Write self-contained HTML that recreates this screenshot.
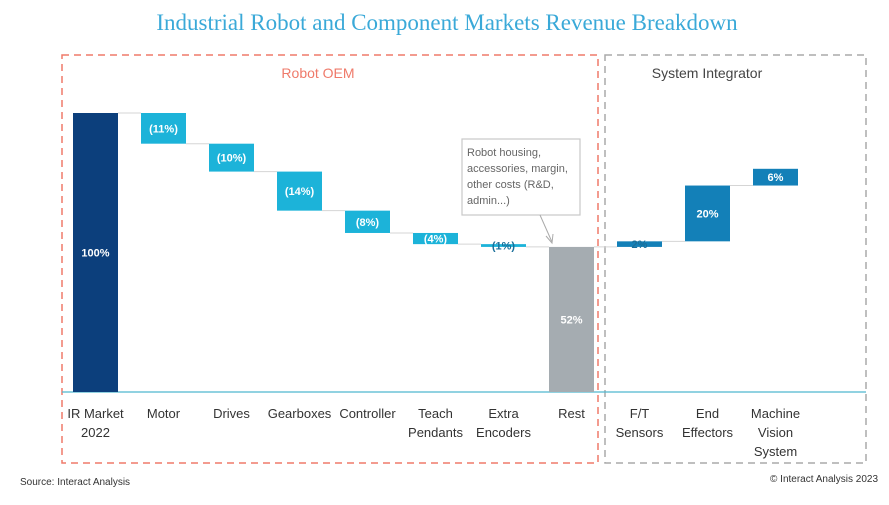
<!DOCTYPE html>
<html><head><meta charset="utf-8"><style>
body{margin:0;background:#fff;width:889px;height:500px;overflow:hidden;font-family:"Liberation Sans",sans-serif}
</style></head><body>
<svg id="chart" width="889" height="500" xmlns="http://www.w3.org/2000/svg">
<text x="447" y="30" text-anchor="middle" font-family="Liberation Serif,serif" font-size="23" fill="#3aa9d8">Industrial Robot and Component Markets Revenue Breakdown</text>
<rect x="62" y="55" width="536" height="408" fill="none" stroke="#ef7a6a" stroke-width="1.5" stroke-dasharray="7,5"/>
<rect x="605" y="55" width="261" height="408" fill="none" stroke="#aaaaaa" stroke-width="1.5" stroke-dasharray="7,5"/>
<text x="318" y="78" text-anchor="middle" font-size="14" fill="#ef7a6a">Robot OEM</text>
<text x="707" y="78" text-anchor="middle" font-size="14" fill="#444">System Integrator</text>
<line x1="62" y1="392" x2="866" y2="392" stroke="#4fb8cf" stroke-width="1.2"/>
<g id="marks"></g>
<g>
<rect x="462" y="139" width="118" height="76" fill="#fff" stroke="#c8c8c8" stroke-width="1.2"/>
<text font-size="11" fill="#666"><tspan x="467" y="156">Robot housing,</tspan><tspan x="467" y="172">accessories, margin,</tspan><tspan x="467" y="188">other costs (R&amp;D,</tspan><tspan x="467" y="204">admin...)</tspan></text>
<line x1="540" y1="215" x2="552" y2="242" stroke="#aaa" stroke-width="1"/>
<polyline points="546,236 552,243 553,234" fill="none" stroke="#aaa" stroke-width="1"/>
</g>
<text x="20" y="485" font-size="10" fill="#333">Source: Interact Analysis</text>
<text x="878" y="482" text-anchor="end" font-size="10" fill="#333">© Interact Analysis 2023</text>
</svg>
<script>
const categories=[["IR Market","2022"],["Motor"],["Drives"],["Gearboxes"],["Controller"],["Teach","Pendants"],["Extra","Encoders"],["Rest"],["F/T","Sensors"],["End","Effectors"],["Machine","Vision","System"]];
const values=[100,-11,-10,-14,-8,-4,-1,52,2,20,6];
const kinds=["total","down","down","down","down","down","down","total","up","up","up"];
const labels=["100%","(11%)","(10%)","(14%)","(8%)","(4%)","(1%)","52%","2%","20%","6%"];
const colors={total0:"#0c3f7c",down:"#1cb3d9",total7:"#a5acb1",up:"#1380b8"};
const y=v=>392-v*2.79;
const x=i=>73+i*68;
const bw=45;
const g=document.getElementById('marks');
const NS="http://www.w3.org/2000/svg";
let run=0;
values.forEach((v,i)=>{
  let a,b,c;
  if(kinds[i]==="total"){a=0;b=v;run=v;c=i===0?colors.total0:colors.total7;}
  else{a=run;b=run+v;run=b;c=kinds[i]==="down"?colors.down:colors.up;}
  const top=y(Math.max(a,b)),h=Math.abs(y(a)-y(b));
  const r=document.createElementNS(NS,'rect');
  
  
  r.setAttribute('x',x(i));r.setAttribute('y',top);r.setAttribute('width',bw);r.setAttribute('height',Math.max(h,1));r.setAttribute('fill',c);
  g.appendChild(r);
  if(i<values.length-1){
    const l=document.createElementNS(NS,'line');
    
    
    l.setAttribute('x1',x(i)+bw);l.setAttribute('x2',x(i+1));l.setAttribute('y1',y(run));l.setAttribute('y2',y(run));l.setAttribute('stroke','#d5d5d5');
    g.appendChild(l);
  }
  const t=document.createElementNS(NS,'text');
  
  
  t.setAttribute('x',x(i)+bw/2);t.setAttribute('y',top+h/2+4);t.setAttribute('text-anchor','middle');
  t.setAttribute('font-size','11');t.setAttribute('font-weight','bold');
  t.setAttribute('fill',h<8?'#1a6f9a':'#fff');
  t.textContent=labels[i];g.appendChild(t);
  const ct=document.createElementNS(NS,'text');
  
  
  ct.setAttribute('text-anchor','middle');ct.setAttribute('font-size','13');ct.setAttribute('fill','#333');
  categories[i].forEach((s,k)=>{const sp=document.createElementNS(NS,'tspan');sp.setAttribute('x',x(i)+bw/2);sp.setAttribute('y',418+k*19);sp.textContent=s;ct.appendChild(sp);});
  g.appendChild(ct);
});
</script>
</body></html>
